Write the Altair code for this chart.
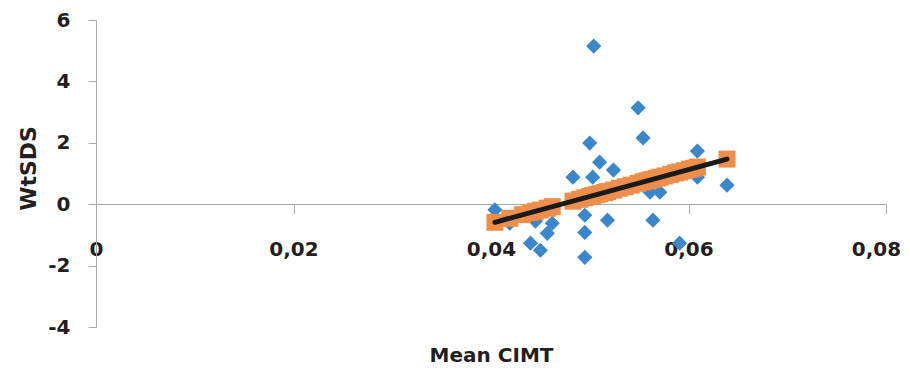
import altair as alt
import pandas as pd

# Observed values (blue diamonds)
blue_x = [0.0404, 0.0419, 0.0440, 0.0445, 0.0450, 0.0457, 0.0462, 0.0483, 0.0495, 0.0495,
          0.0495, 0.0500, 0.0503, 0.0504, 0.0510, 0.0518, 0.0524, 0.0549, 0.0554, 0.0561,
          0.0564, 0.0571, 0.0591, 0.0609, 0.0609, 0.0639]
blue_y = [-0.18, -0.62, -1.27, -0.55, -1.50, -0.95, -0.62, 0.88, -0.36, -0.92,
          -1.73, 1.99, 0.88, 5.15, 1.37, -0.52, 1.11, 3.14, 2.16, 0.39,
          -0.52, 0.39, -1.27, 1.73, 0.88, 0.62]

# Predicted values (orange squares)
orange_x = [0.0404, 0.0419, 0.0432, 0.0440, 0.0445, 0.0450, 0.0457, 0.0462, 0.0483, 0.0490,
            0.0495, 0.0500, 0.0503, 0.0507, 0.0510, 0.0515, 0.0518, 0.0524, 0.0530, 0.0536,
            0.0542, 0.0549, 0.0554, 0.0558, 0.0561, 0.0564, 0.0568, 0.0571, 0.0576, 0.0582,
            0.0587, 0.0591, 0.0596, 0.0601, 0.0605, 0.0609, 0.0639]
orange_y = [-0.59, -0.46, -0.34, -0.27, -0.23, -0.19, -0.13, -0.08, 0.10, 0.16,
            0.21, 0.25, 0.28, 0.31, 0.34, 0.38, 0.41, 0.46, 0.52, 0.57,
            0.62, 0.68, 0.73, 0.76, 0.79, 0.81, 0.85, 0.88, 0.92, 0.97,
            1.02, 1.05, 1.09, 1.14, 1.17, 1.21, 1.47]

# Trend line end points
trend_x = [0.0404, 0.0639]
trend_y = [-0.59, 1.47]

x_ticks = [0, 0.02, 0.04, 0.06, 0.08]
y_ticks = [-4, -2, 0, 2, 4, 6]

blue_df = pd.DataFrame({"x": blue_x, "y": blue_y})
orange_df = pd.DataFrame({"x": orange_x, "y": orange_y})
trend_df = pd.DataFrame({"x": trend_x, "y": trend_y})

FONT = "DejaVu Sans"
AX = "#a7abb0"
TXT = "#231f20"

x_enc = alt.X(
    "x:Q",
    scale=alt.Scale(domain=[0, 0.08], nice=False, zero=False),
    axis=alt.Axis(
        title="Mean CIMT",
        orient="bottom",
        offset=-123,
        values=x_ticks,
        labelExpr="datum.value == 0 ? '0' : replace(format(datum.value, '.2f'), '.', ',')",
        grid=False,
        domainColor=AX,
        tickColor=AX,
        tickSize=10,
        labelPadding=25,
        labelFont=FONT,
        labelFontSize=20,
        labelFontWeight="bold",
        labelColor=TXT,
        labelFlush=False,
        labelOverlap=False,
        labelOffset={"condition": {"test": "datum.value > 0.07", "value": -10}, "value": 0},
        titleFont=FONT,
        titleFontSize=20,
        titleFontWeight="bold",
        titleColor=TXT,
        titleBaseline="alphabetic",
        titleY=157,
    ),
)
y_enc = alt.Y(
    "y:Q",
    scale=alt.Scale(domain=[-4, 6], nice=False, zero=False),
    axis=alt.Axis(
        title="WtSDS",
        values=y_ticks,
        labelExpr="'' + datum.value",
        grid=False,
        domainColor=AX,
        tickColor=AX,
        tickSize=8,
        labelPadding=18,
        labelFont=FONT,
        labelFontSize=20,
        labelFontWeight="bold",
        labelColor=TXT,
        labelFlush=False,
        labelOverlap=False,
        titleFont=FONT,
        titleFontSize=22,
        titleFontWeight="bold",
        titleColor=TXT,
        titleBaseline="middle",
        titleX=-68,
        titleY=148,
    ),
)

blue = alt.Chart(blue_df).mark_point(
    shape="diamond", filled=True, size=230, color="#3a87c9", opacity=1
).encode(x=x_enc, y=y_enc)

orange = alt.Chart(orange_df).mark_square(
    size=290, color="#ed8e4b", opacity=1
).encode(x=x_enc, y=y_enc)

trend = alt.Chart(trend_df).mark_line(
    color="#1a1a1a", strokeWidth=5, strokeCap="round"
).encode(x=x_enc, y=y_enc)

chart = alt.layer(blue, orange, trend).properties(
    width=790,
    height=307,
    autosize=alt.AutoSizeParams(type="none"),
    padding={"left": 88, "top": 12, "right": 16, "bottom": 40},
    background="white",
).configure_view(stroke=None)

chart.save("out.html", embed_options={"renderer": "svg", "actions": False})
